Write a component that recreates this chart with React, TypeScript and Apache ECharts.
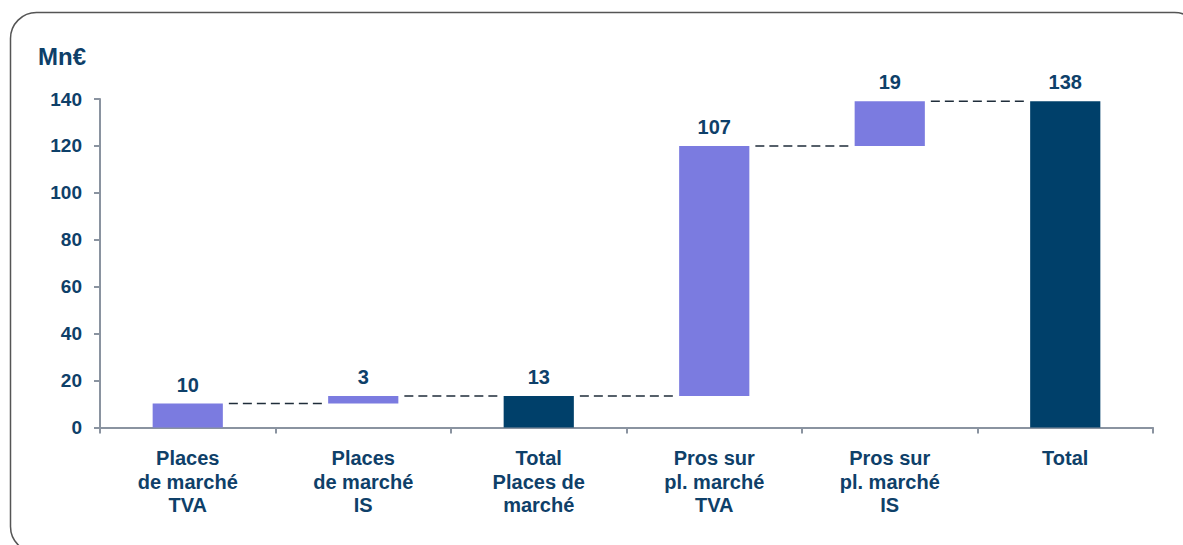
import React, { useEffect, useRef } from "react";
import * as echarts from "echarts";

const categories = [
  "Places\nde marché\nTVA",
  "Places\nde marché\nIS",
  "Total\nPlaces de\nmarché",
  "Pros sur\npl. marché\nTVA",
  "Pros sur\npl. marché\nIS",
  "Total",
];
const barBases = [0, 10.2, 0, 13.4, 120, 0];
const barTops = [10.2, 13.4, 13.4, 120, 139, 139];
const barLabels = ["10", "3", "13", "107", "19", "138"];
const isTotal = [false, false, true, false, false, true];
const connectorLevels = [10.2, 13.4, 13.4, 120, 139];
const yTicks = { min: 0, max: 140, interval: 20 };
const unitLabel = "Mn€";

const NAVY = "#00406a";
const PURPLE = "#7b7be0";
const TEXT = "#0e4069";
const AXIS = "#8a93a0";
const FONT = "'Liberation Sans', Arial, sans-serif";

export default function App() {
  const ref = useRef<HTMLDivElement>(null);
  useEffect(() => {
    document.body.style.margin = "0";
    const chart = echarts.init(ref.current!, null, { renderer: "svg" });
    const option: any = {
      animation: false,
      textStyle: { fontFamily: FONT },
      grid: { left: 100, right: 30, top: 99, bottom: 117.5 },
      graphic: [
        {
          type: "rect",
          shape: { x: 10.5, y: 12.5, width: 1190, height: 540, r: 26 },
          style: { fill: "none", stroke: "#555", lineWidth: 1.5 },
          z: -1,
        },
        {
          type: "text",
          left: 38,
          top: 44,
          style: { text: unitLabel, fill: TEXT, font: `bold 24px ${FONT}` },
        },
      ],
      xAxis: {
        type: "category",
        data: categories,
        axisLine: { lineStyle: { color: AXIS, width: 2 } },
        axisTick: { show: true, length: 6, lineStyle: { color: AXIS, width: 2 } },
        axisLabel: {
          color: TEXT,
          fontWeight: "bold",
          fontSize: 20,
          lineHeight: 23.5,
          margin: 19,
          fontFamily: FONT,
          interval: 0,
        },
      },
      yAxis: {
        type: "value",
        min: yTicks.min,
        max: yTicks.max,
        interval: yTicks.interval,
        splitLine: { show: false },
        axisLine: { show: true, lineStyle: { color: AXIS, width: 2 } },
        axisTick: { show: true, length: 6, lineStyle: { color: AXIS, width: 2 } },
        axisLabel: {
          color: TEXT,
          fontWeight: "bold",
          fontSize: 19,
          margin: 18,
          fontFamily: FONT,
        },
      },
      series: [
        {
          type: "bar",
          stack: "w",
          barWidth: "40%",
          itemStyle: { color: "transparent" },
          data: barBases,
          silent: true,
        },
        {
          type: "bar",
          stack: "w",
          barWidth: "40%",
          data: barTops.map((t, i) => ({
            value: +(t - barBases[i]).toFixed(2),
            itemStyle: { color: isTotal[i] ? NAVY : PURPLE },
          })),
          label: {
            show: true,
            position: "top",
            distance: 9,
            color: TEXT,
            fontWeight: "bold",
            fontSize: 20,
            fontFamily: FONT,
            formatter: (p: any) => barLabels[p.dataIndex],
          },
        },
        {
          type: "custom",
          data: connectorLevels.map((v, i) => [i, v]),
          renderItem: (params: any, api: any) => {
            const i = api.value(0);
            const v = api.value(1);
            const p1 = api.coord([i, v]);
            const p2 = api.coord([i + 1, v]);
            const band = api.size([1, 0])[0];
            const half = band * 0.2;
            return {
              type: "line",
              shape: { x1: p1[0] + half + 6, y1: p1[1], x2: p2[0] - half - 5, y2: p2[1] },
              style: { stroke: "#1f2d3a", lineWidth: 1.5, lineDash: [9, 5] },
            };
          },
          z: 5,
        },
      ],
    };
    chart.setOption(option);
    return () => chart.dispose();
  }, []);
  return <div ref={ref} style={{ width: 1183, height: 545 }} />;
}
